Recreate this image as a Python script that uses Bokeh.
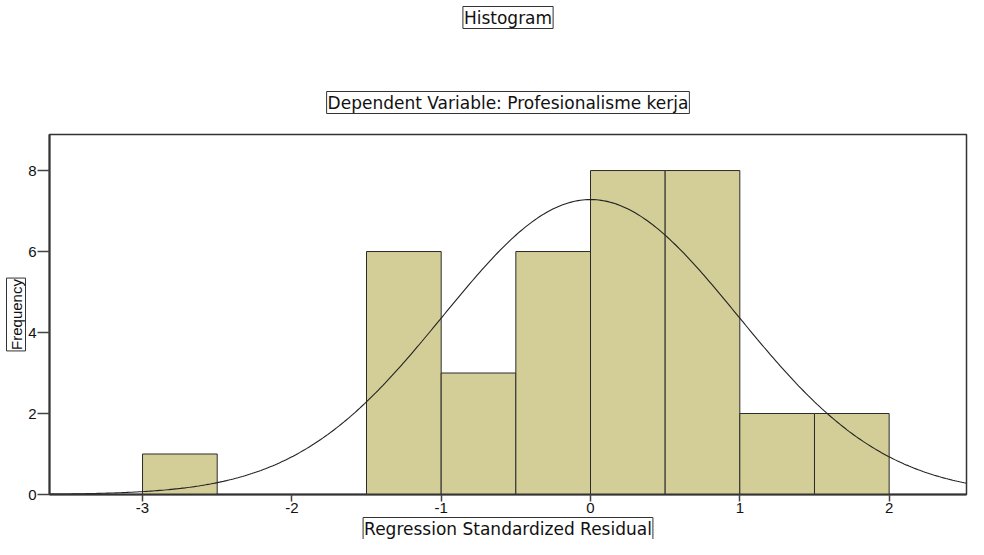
import numpy as np
from bokeh.plotting import figure
from bokeh.models import Title, Range1d, FixedTicker
from bokeh.embed import file_html
from bokeh.resources import INLINE

# Histogram data (bin edges and counts)
bin_left = [-3.0, -1.5, -1.0, -0.5, 0.0, 0.5, 1.0, 1.5]
bin_right = [-2.5, -1.0, -0.5, 0.0, 0.5, 1.0, 1.5, 2.0]
counts = [1, 6, 3, 6, 8, 8, 2, 2]
x_ticks = [-3, -2, -1, 0, 1, 2]
x_tick_labels = ["-3", "-2", "-1", "0", "1", "2"]
y_ticks = [0, 2, 4, 6, 8]
y_tick_labels = ["0", "2", "4", "6", "8"]

# Normal curve parameters (SPSS overlay)
n_obs = 36
mean_res = 0.0
sd_res = 0.986
bin_width = 0.5

FONT = "Liberation Sans"
TFONT = "DejaVu Sans"
FILL = "#D3CE97"

x0, x1 = -3.623, 2.518
p = figure(width=968, height=539, output_backend="svg", toolbar_location=None,
           x_range=Range1d(x0, x1), y_range=Range1d(0, 8.89),
           min_border_left=49, min_border_right=2, min_border_top=131, min_border_bottom=39)
p.grid.visible = False
p.outline_line_color = "#333333"
p.outline_line_width = 1.5

p.quad(left=bin_left, right=bin_right, bottom=0, top=counts,
       fill_color=FILL, line_color="#2b2b2b", line_width=1)

xs = np.linspace(x0, x1, 400)
ys = n_obs * bin_width / (sd_res * np.sqrt(2 * np.pi)) * np.exp(-0.5 * ((xs - mean_res) / sd_res) ** 2)
p.line(xs, ys, line_color="#222222", line_width=1.1)

for ax in (p.xaxis[0], p.yaxis[0]):
    ax.axis_line_color = "#333333"
    ax.axis_line_width = 2
    ax.major_tick_line_color = "#444444"
    ax.major_tick_line_width = 1.5
    ax.minor_tick_line_color = None
    ax.major_tick_in = 0
    ax.major_label_text_font = FONT
    ax.major_label_text_font_size = "15px"
    ax.major_label_text_color = "#111111"
    ax.major_label_standoff = 1
p.xaxis.ticker = FixedTicker(ticks=x_ticks)
p.yaxis.ticker = FixedTicker(ticks=y_ticks)
p.xaxis.major_label_overrides = {t: s for t, s in zip(x_ticks, x_tick_labels)}
p.yaxis.major_label_overrides = {t: s for t, s in zip(y_ticks, y_tick_labels)}
p.xaxis.major_tick_out = 7
p.yaxis.major_tick_out = 12
p.yaxis.major_label_orientation = "horizontal"


def boxed_title(text, side, font, size, standoff, valign="bottom", border=True, offset=0):
    t = Title(text=text, align="center", text_font=font, text_font_size=size,
              text_font_style="normal", text_color="#111111", vertical_align=valign,
              border_line_color="#333333" if border else None, border_line_width=1,
              background_fill_color="white" if border else None, padding=1,
              standoff=standoff, offset=offset)
    p.add_layout(t, side)


boxed_title("Dependent Variable: Profesionalisme kerja", "above", TFONT, "17px", 42, offset=-17)
boxed_title(" ", "above", FONT, "1px", 27, border=False)
boxed_title("Histogram", "above", TFONT, "17px", 12, valign="top", offset=-17)
boxed_title("Frequency", "left", FONT, "15px", 0)
boxed_title("Regression Standardized Residual", "below", TFONT, "17px", 0, offset=8)

open("out.html", "w").write(file_html(p, INLINE))
